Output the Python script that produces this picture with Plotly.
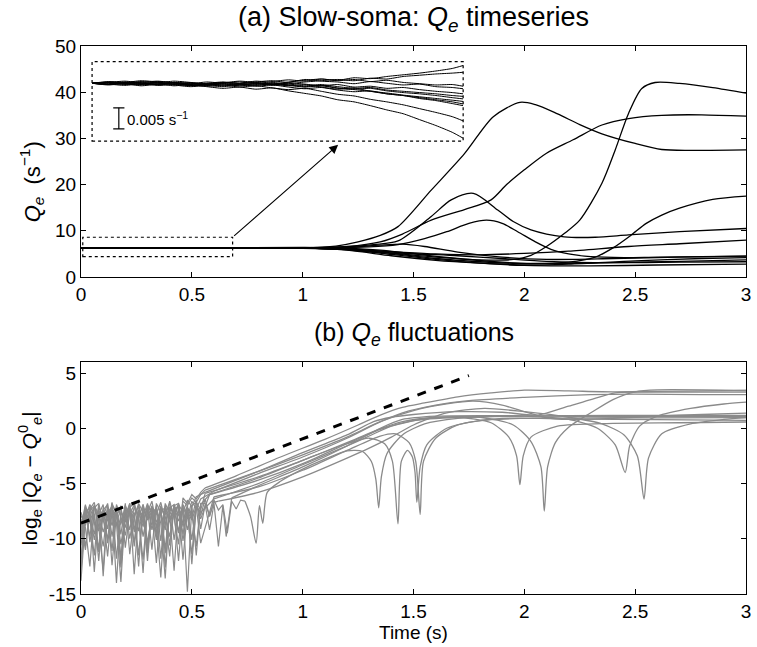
import plotly.graph_objects as go

# ================= DATA =================
# ---- Panel (a): Q_e(t) of 12 realisations (s^-1) ----
a1_t = [0, 0.5, 1.0, 1.2, 1.4, 1.6, 1.8, 1.95, 2.03, 2.1, 2.18, 2.25, 2.35, 2.41, 2.47, 2.53, 2.59, 2.7, 2.85, 3.0]
a1_q = [6.3, 6.32, 6.25, 6.0, 5.2, 4.3, 3.7, 3.8, 4.7, 6.6, 9.4, 12.3, 20.3, 27.5, 35.4, 40.8, 42.1, 41.9, 41.0, 39.8]
a2_t = [0, 0.5, 1.0, 1.2, 1.35, 1.45, 1.58, 1.73, 1.85, 1.92, 2.0, 2.1, 2.22, 2.35, 2.47, 2.62, 2.8, 3.0]
a2_q = [6.3, 6.27, 6.33, 6.6, 7.6, 9.3, 12.3, 14.6, 16.7, 20.0, 23.2, 26.8, 29.7, 32.9, 34.3, 35.0, 35.1, 34.8]
a3_t = [0, 0.5, 1.0, 1.15, 1.25, 1.35, 1.43, 1.58, 1.73, 1.86, 1.98, 2.05, 2.15, 2.25, 2.35, 2.5, 2.62, 2.75, 3.0]
a3_q = [6.3, 6.36, 6.3, 6.7, 7.6, 9.0, 10.9, 18.8, 26.7, 34.7, 37.8, 37.3, 35.3, 33.0, 31.0, 28.9, 27.6, 27.4, 27.5]
a4_t = [0, 0.5, 1.0, 1.2, 1.4, 1.6, 1.8, 2.0, 2.2, 2.32, 2.4, 2.48, 2.55, 2.62, 2.7, 2.85, 3.0]
a4_q = [6.3, 6.22, 6.28, 6.0, 5.1, 4.0, 3.3, 2.9, 3.2, 4.3, 6.3, 9.0, 11.6, 13.4, 14.9, 16.8, 17.5]
a5_t = [0, 0.5, 1.0, 1.2, 1.32, 1.43, 1.58, 1.67, 1.77, 1.88, 1.95, 2.03, 2.18, 2.32, 2.47, 2.7, 3.0]
a5_q = [6.3, 6.34, 6.27, 6.5, 7.0, 7.8, 13.1, 16.7, 18.1, 14.5, 12.0, 10.2, 8.7, 8.6, 9.1, 9.8, 10.5]
a6_t = [0, 0.5, 1.0, 1.3, 1.43, 1.55, 1.65, 1.75, 1.83, 1.9, 1.97, 2.05, 2.12, 2.2, 2.3, 2.45, 2.6, 3.0]
a6_q = [6.3, 6.28, 6.35, 6.5, 7.0, 8.3, 9.8, 11.6, 12.3, 11.6, 9.8, 7.6, 6.0, 5.0, 4.4, 4.2, 4.3, 4.5]
a7_t = [0, 0.5, 1.0, 1.2, 1.4, 1.6, 1.8, 2.0, 2.2, 2.47, 2.7, 3.0]
a7_q = [6.3, 6.3, 6.22, 6.0, 5.5, 5.0, 4.8, 5.1, 5.6, 6.6, 7.2, 8.0]
a8_t = [0, 0.5, 1.0, 1.2, 1.4, 1.6, 1.8, 2.0, 2.2, 2.5, 2.8, 3.0]
a8_q = [6.3, 6.24, 6.3, 5.8, 4.6, 3.6, 3.0, 2.6, 2.8, 3.5, 4.0, 4.2]
a9_t = [0, 0.5, 1.0, 1.2, 1.35, 1.5, 1.7, 1.9, 2.1, 2.4, 2.7, 3.0]
a9_q = [6.3, 6.37, 6.32, 6.2, 5.8, 5.0, 4.0, 3.2, 2.9, 3.1, 3.4, 3.7]
a10_t = [0, 0.5, 1.0, 1.2, 1.4, 1.6, 1.8, 2.0, 2.3, 2.6, 3.0]
a10_q = [6.3, 6.26, 6.24, 5.9, 4.9, 3.8, 3.0, 2.5, 2.4, 2.6, 2.8]
a11_t = [0, 0.5, 1.0, 1.2, 1.35, 1.45, 1.55, 1.7, 1.9, 2.1, 2.4, 2.7, 3.0]
a11_q = [6.3, 6.31, 6.38, 6.4, 6.9, 7.1, 6.6, 5.4, 4.3, 3.8, 4.0, 4.3, 4.5]
a12_t = [0, 0.5, 1.0, 1.25, 1.45, 1.7, 1.9, 2.1, 2.4, 2.7, 3.0]
a12_q = [6.3, 6.29, 6.2, 6.0, 5.2, 4.6, 4.0, 3.4, 3.1, 3.2, 3.3]

# ---- Inset: early fluctuations of Q_e about steady state (units of 1e-3 s^-1) ----
inset_t = [0, 0.03, 0.06, 0.09, 0.12, 0.15, 0.18, 0.21, 0.24, 0.27, 0.30, 0.33,
           0.36, 0.39, 0.42, 0.45, 0.48, 0.51, 0.54, 0.57, 0.60, 0.63, 0.66, 0.68]
i1 = [0, 0.4, 0.2, 0.6, 0.3, -0.2, 0.1, -0.4, 0.0, 0.3, -0.1, 0.4, 0.8, 0.5, 1.0, 0.7, 1.3, 1.1, 1.6, 2.0, 2.4, 2.9, 3.5, 4.2]
i2 = [0, -0.3, 0.1, -0.2, 0.4, 0.1, -0.5, -0.2, 0.2, 0.0, 0.5, 0.2, -0.1, 0.3, 0.6, 0.9, 0.6, 1.2, 1.0, 1.6, 1.9, 2.2, 2.4, 2.6]
i3 = [0, 0.2, -0.1, 0.3, -0.4, -0.1, -0.6, -0.3, 0.1, -0.2, 0.3, 0.6, 0.2, 0.9, 0.5, 0.3, -0.1, 0.4, 0.0, -0.4, -0.2, -0.8, -1.0, -1.3]
i4 = [0, -0.1, 0.3, 0.0, -0.3, 0.2, 0.0, -0.5, -0.8, -0.4, -0.1, -0.3, 0.1, -0.2, -0.6, -0.3, -0.9, -0.7, -1.2, -1.0, -1.5, -1.9, -2.2, -2.5]
i5 = [0, 0.3, 0.0, -0.3, 0.1, -0.4, -0.8, -0.5, -0.2, -0.6, -0.3, 0.0, -0.4, -0.8, -0.5, -1.1, -1.4, -1.2, -1.8, -2.2, -2.5, -2.9, -3.4, -3.7]
i6 = [0, -0.2, 0.2, -0.1, -0.5, -0.3, 0.1, -0.2, -0.6, -0.3, -0.7, -0.4, -0.9, -1.3, -1.0, -1.6, -2.0, -1.8, -2.5, -2.9, -3.4, -3.9, -4.4, -4.9]
i7 = [0, 0.1, -0.3, 0.2, 0.5, 0.1, -0.3, 0.0, 0.3, -0.1, -0.5, -0.2, -0.6, -0.3, -0.9, -1.4, -1.1, -1.9, -2.5, -2.9, -3.6, -4.1, -4.8, -5.3]
i8 = [0, -0.3, -0.1, -0.6, -0.2, 0.1, -0.4, -0.7, -0.4, -0.9, -0.6, -1.1, -1.5, -1.2, -1.9, -2.6, -3.0, -3.8, -4.4, -5.1, -6.0, -6.9, -7.9, -8.9]
i9 = [0, 0.2, -0.2, -0.4, -0.1, -0.6, -0.3, -0.8, -1.2, -0.9, -1.4, -1.1, -1.8, -2.4, -3.0, -3.9, -4.4, -5.3, -6.3, -7.2, -8.6, -10.0, -11.6, -13.0]
i10 = [0, -0.4, 0.0, 0.4, 0.1, 0.5, 0.2, -0.2, 0.1, 0.5, 0.2, -0.2, 0.3, 0.7, 1.0, 0.6, 0.9, 0.4, 0.7, 0.2, -0.1, -0.4, -0.3, -0.7]
i11 = [0, 0.2, 0.5, 0.1, -0.2, 0.2, -0.1, 0.3, 0.0, -0.4, -0.1, -0.5, -0.2, -0.6, -0.3, -0.8, -1.2, -1.0, -1.6, -1.9, -2.2, -2.5, -2.9, -3.1]
i12 = [0, -0.2, -0.5, -0.1, 0.2, -0.2, -0.5, -0.1, -0.4, -0.1, 0.2, -0.2, -0.5, -0.9, -0.6, -1.2, -1.5, -1.9, -2.3, -2.8, -3.2, -3.6, -4.0, -4.3]
scalebar_t = [0.049, 0.049]
scalebar_q = [-10.8, -5.8]          # 5e-3 s^-1 long
scalebar_label = "0.005 s<sup>−1</sup>"

# ---- Panel (b): log_e|Q_e - Q_e^0| ; noisy early part on a common grid ----
noise_t = [0.00, 0.02, 0.04, 0.06, 0.08, 0.10, 0.12, 0.14, 0.16, 0.18, 0.20, 0.22, 0.24, 0.26,
           0.28, 0.30, 0.32, 0.34, 0.36, 0.38, 0.40, 0.42, 0.44, 0.46, 0.48, 0.50, 0.52, 0.54]
n1 = [-9.5, -7.0, -8.2, -11.5, -7.1, -8.0, -6.8, -9.8, -7.3, -12.2, -7.0, -7.9, -10.3, -6.9, -8.6, -7.2, -11.0, -6.8, -7.6, -9.2, -6.6, -8.1, -10.5, -6.3, -6.8, -6.0, -6.4, -5.8]
n2 = [-13.8, -8.1, -6.9, -7.8, -10.9, -7.4, -9.1, -6.7, -11.8, -7.6, -8.3, -6.8, -13.2, -7.5, -8.9, -6.9, -7.8, -10.1, -7.0, -12.6, -7.2, -6.9, -9.4, -6.6, -7.0, -6.3, -6.7, -6.0]
n3 = [-8.2, -10.7, -7.3, -6.7, -8.9, -12.8, -7.1, -8.0, -7.4, -9.6, -6.8, -11.4, -7.9, -7.0, -9.8, -7.6, -6.6, -8.7, -13.5, -7.4, -8.5, -7.0, -6.8, -10.2, -7.2, -8.1, -6.5, -9.1]
n4 = [-10.6, -7.5, -9.8, -7.0, -7.8, -6.9, -10.4, -7.7, -8.6, -13.9, -7.3, -7.8, -6.9, -9.3, -7.5, -12.0, -7.1, -7.8, -6.7, -8.4, -11.6, -6.9, -7.9, -7.2, -14.8, -7.0, -6.7, -8.2]
n5 = [-7.6, -9.0, -12.5, -7.2, -6.8, -8.5, -7.3, -11.1, -6.9, -8.0, -9.7, -7.2, -6.7, -8.3, -11.9, -7.4, -8.8, -7.0, -10.2, -6.8, -7.7, -12.9, -6.9, -7.6, -6.5, -7.1, -6.2, -6.0]
n6 = [-11.8, -7.3, -7.9, -9.6, -6.9, -13.4, -7.6, -7.1, -8.8, -7.0, -10.8, -7.5, -8.1, -6.8, -7.6, -10.9, -7.3, -9.5, -7.1, -7.8, -6.7, -10.1, -7.4, -8.6, -6.9, -12.3, -7.1, -7.6]
n7 = [-8.9, -6.9, -10.3, -7.8, -12.0, -7.2, -8.4, -7.0, -7.6, -10.5, -7.9, -6.8, -9.4, -7.7, -13.1, -7.0, -7.5, -8.9, -7.3, -11.3, -7.6, -8.0, -6.9, -9.6, -7.2, -7.7, -10.7, -6.8]
n8 = [-12.9, -7.7, -7.1, -8.5, -11.2, -7.4, -6.9, -12.4, -7.8, -7.3, -9.0, -7.1, -10.7, -7.6, -8.0, -6.8, -9.2, -7.4, -11.8, -7.0, -8.2, -7.3, -9.5, -6.9, -7.8, -11.4, -7.0, -7.9]
n9 = [-7.9, -8.8, -7.2, -13.0, -7.5, -8.1, -10.0, -6.8, -7.7, -11.7, -7.4, -9.2, -7.1, -8.1, -6.9, -10.4, -7.7, -7.2, -8.6, -13.6, -7.1, -7.9, -6.8, -8.9, -7.3, -10.1, -6.7, -7.4]
n10 = [-9.9, -7.2, -7.8, -10.1, -7.6, -9.4, -7.9, -7.2, -14.0, -7.5, -8.5, -7.2, -7.8, -11.5, -6.9, -8.3, -7.5, -12.2, -7.2, -8.0, -9.8, -7.4, -7.0, -11.9, -7.5, -8.3, -7.1, -10.4]
n11 = [-12.2, -7.4, -8.6, -7.0, -9.3, -7.8, -11.6, -7.3, -7.9, -8.7, -7.0, -10.0, -7.6, -12.5, -7.2, -8.1, -7.0, -9.8, -7.5, -7.2, -10.6, -7.0, -8.4, -7.3, -9.2, -7.0, -11.5, -6.9]
n12 = [-8.6, -11.0, -7.5, -7.0, -8.3, -10.7, -7.3, -8.8, -7.1, -12.6, -8.0, -7.2, -9.1, -7.4, -7.9, -11.3, -7.1, -8.5, -7.6, -10.9, -7.2, -7.6, -12.0, -7.1, -8.2, -6.6, -7.3, -6.4]
# extra noisy stretches of the slower traces
n3_ext_t = [0.56, 0.58, 0.60, 0.62, 0.64, 0.655]
n3_ext_y = [-6.9, -9.2, -6.8, -10.7, -7.0, -9.8]
n7_ext_t = [0.56, 0.58, 0.60]
n7_ext_y = [-6.8, -7.9, -6.7]
n8_ext_t = [0.56, 0.58, 0.60, 0.62, 0.64, 0.66, 0.68, 0.70, 0.72]
n8_ext_y = [-6.4, -8.0, -6.5, -7.4, -6.9, -9.5, -6.6, -7.3, -6.5]
# smooth (growing) part of each trace
b1_t = [0.56, 0.7, 0.9, 1.1, 1.25, 1.35, 1.45, 1.55, 1.7, 1.85, 2.0, 2.2, 2.4, 2.6, 3.0]
b1_y = [-5.4, -4.3, -2.6, -1.0, 0.3, 1.2, 1.9, 2.3, 2.85, 3.2, 3.45, 3.38, 3.3, 3.35, 3.42]
b2_t = [0.56, 0.8, 1.0, 1.2, 1.32, 1.4, 1.5, 1.7, 1.9, 2.06, 2.2, 2.3, 2.41, 2.5, 2.6, 3.0]
b2_y = [-5.8, -3.9, -2.2, -0.6, 0.6, 1.0, 1.25, 1.5, 1.45, 1.2, 2.0, 2.6, 3.2, 3.27, 3.28, 3.28]
b3_t = [0.68, 0.8, 1.0, 1.2, 1.35, 1.45, 1.6, 1.8, 2.0, 2.2, 2.33, 2.41, 2.455, 2.475, 2.52, 2.6, 2.75, 2.9, 3.0]
b3_y = [-6.3, -5.2, -3.5, -1.6, 0.0, 0.8, 1.1, 1.15, 1.1, 0.8, 0.0, -1.5, -4.0, -1.6, 0.2, 1.1, 1.8, 2.2, 2.37]
b4_t = [0.58, 0.8, 1.0, 1.2, 1.33, 1.45, 1.6, 1.8, 1.95, 2.03, 2.075, 2.09, 2.105, 2.14, 2.2, 2.3, 2.4, 2.5, 2.6, 3.0]
b4_y = [-6.0, -4.5, -2.9, -1.3, -0.2, 0.6, 1.0, 1.0, 0.3, -1.2, -3.5, -7.5, -3.5, -1.3, 0.1, 1.4, 2.6, 3.3, 3.48, 3.42]
b5_t = [0.56, 0.8, 1.0, 1.2, 1.35, 1.5, 1.65, 1.77, 1.9, 2.0, 2.1, 2.2, 2.4, 2.6, 2.8, 3.0]
b5_y = [-5.6, -3.9, -2.4, -0.8, 0.6, 1.6, 2.2, 2.45, 2.1, 1.5, 0.95, 0.8, 0.9, 1.1, 1.25, 1.38]
b6_t = [0.6, 0.8, 1.0, 1.2, 1.3, 1.4, 1.55, 1.7, 1.85, 1.93, 1.965, 1.98, 1.995, 2.03, 2.15, 2.4, 2.7, 3.0]
b6_y = [-6.4, -5.0, -3.3, -1.6, -0.7, 0.2, 0.85, 1.0, 0.5, -0.8, -2.5, -5.1, -2.5, -0.8, 0.2, 0.45, 0.5, 0.57]
b7_t = [0.62, 0.8, 1.0, 1.2, 1.3, 1.4, 1.5, 1.65, 1.82, 2.0, 2.2, 2.35, 2.45, 2.51, 2.54, 2.56, 2.62, 2.75, 2.9, 3.0]
b7_y = [-6.6, -5.8, -4.4, -2.7, -1.8, -0.8, 0.3, 1.4, 1.8, 1.5, 1.0, 0.4, -0.6, -2.5, -6.4, -2.7, -0.5, 0.4, 0.8, 0.96]
b8_t = [0.74, 0.765, 0.79, 0.805, 0.82, 0.84, 0.9, 1.0, 1.1, 1.2, 1.27, 1.31, 1.33, 1.343, 1.355, 1.38, 1.45, 1.55, 1.7, 1.9, 2.2, 2.6, 3.0]
b8_y = [-6.6, -8.0, -10.4, -7.0, -8.6, -5.8, -4.8, -3.7, -2.8, -2.05, -2.1, -3.0, -4.6, -7.2, -4.4, -2.3, -0.6, 0.4, 0.9, 1.1, 1.15, 1.17, 1.17]
b9_t = [0.56, 0.8, 1.0, 1.2, 1.3, 1.37, 1.405, 1.43, 1.445, 1.473, 1.495, 1.507, 1.515, 1.53, 1.56, 1.65, 1.8, 2.0, 2.3, 2.6, 3.0]
b9_y = [-5.9, -4.4, -2.9, -1.4, -0.9, -1.4, -3.0, -8.65, -3.0, -2.0, -2.6, -4.0, -6.7, -3.5, -1.5, 0.0, 0.7, 0.9, 0.95, 0.95, 0.96]
b10_t = [0.6, 0.8, 1.0, 1.2, 1.35, 1.42, 1.48, 1.51, 1.53, 1.545, 1.6, 1.7, 1.9, 2.2, 2.6, 3.0]
b10_y = [-6.2, -5.3, -3.8, -2.0, -0.7, -0.5, -1.3, -3.0, -7.8, -3.0, -0.9, 0.3, 0.9, 0.85, 0.78, 0.72]
b11_t = [0.58, 0.8, 1.0, 1.2, 1.35, 1.5, 1.7, 2.0, 2.5, 3.0]
b11_y = [-6.0, -4.7, -3.2, -1.4, -0.1, 0.7, 1.0, 1.1, 1.05, 1.05]
b12_t = [0.6, 0.8, 1.0, 1.2, 1.33, 1.45, 1.6, 1.75, 2.0, 2.3, 2.5, 2.8, 3.0]
b12_y = [-5.7, -4.1, -2.6, -0.9, 0.4, 1.4, 2.1, 2.5, 2.8, 3.05, 3.1, 3.05, 3.05]
# linear-instability growth-rate guide (dashed)
guide_t = [0.0, 1.75]
guide_y = [-8.59, 4.77]

# tick labels
x_ticks = [0, 0.5, 1, 1.5, 2, 2.5, 3]
x_ticktext = ["0", "0.5", "1", "1.5", "2", "2.5", "3"]
ya_ticks = [0, 10, 20, 30, 40, 50]
ya_ticktext = ["0", "10", "20", "30", "40", "50"]
yb_ticks = [5, 0, -5, -10, -15]
yb_ticktext = ["5", "0", "-5", "-10", "-15"]

# ================= LAYOUT CONSTANTS =================
W, H = 757, 647
ML, MR, MT, MB = 81, 6, 46, 53
PH = H - MT - MB
DOM_A = [(H - MB - 277) / PH, 1.0]
DOM_B = [0.0, (H - MB - 362) / PH]
YA_RANGE = [0, 50]
YB_RANGE = [-15, 6]
X_RANGE = [0, 3]
SMALL_BOX = dict(x0=0.008, x1=0.684, y0=4.4, y1=8.6)
BIG_BOX = dict(x0=0.05, x1=1.724, y0=29.4, y1=46.6)
INSET_T_RANGE = [0, 0.68]
INSET_Q_RANGE = [-13.7, 5.1]
FONT = "Liberation Sans, Arial, Helvetica, sans-serif"
GRAY = "#8a8a8a"


def ypaper_a(v):
    return DOM_A[0] + (DOM_A[1] - DOM_A[0]) * (v - YA_RANGE[0]) / (YA_RANGE[1] - YA_RANGE[0])


def py2paper(py):
    return (H - MB - py) / PH


def px2paper(px):
    return (px - ML) / (W - ML - MR)


fig = go.Figure()

# panel (a) traces
a_series = [(a1_t, a1_q), (a2_t, a2_q), (a3_t, a3_q), (a4_t, a4_q), (a5_t, a5_q), (a6_t, a6_q),
            (a7_t, a7_q), (a8_t, a8_q), (a9_t, a9_q), (a10_t, a10_q), (a11_t, a11_q), (a12_t, a12_q)]
for t, q in a_series:
    fig.add_trace(go.Scatter(x=t, y=q, mode="lines", xaxis="x", yaxis="y",
                             line=dict(color="black", width=1.3, shape="spline", smoothing=0.8),
                             showlegend=False, hoverinfo="skip"))

# inset traces
for q in [i1, i2, i3, i4, i5, i6, i7, i8, i9, i10, i11, i12]:
    fig.add_trace(go.Scatter(x=inset_t, y=q, mode="lines", xaxis="x3", yaxis="y3",
                             line=dict(color="black", width=1.0, shape="spline", smoothing=0.6),
                             showlegend=False, hoverinfo="skip"))
fig.add_trace(go.Scatter(x=scalebar_t, y=scalebar_q, mode="lines+markers", xaxis="x3", yaxis="y3",
                         line=dict(color="black", width=1.2),
                         marker=dict(symbol="line-ew", size=8, line=dict(color="black", width=1.2)),
                         showlegend=False, hoverinfo="skip"))

# panel (b) traces
b_series = [
    (n1, [], [], b1_t, b1_y), (n2, [], [], b2_t, b2_y), (n3, n3_ext_t, n3_ext_y, b3_t, b3_y),
    (n4, [], [], b4_t, b4_y), (n5, [], [], b5_t, b5_y), (n6, [], [], b6_t, b6_y),
    (n7, n7_ext_t, n7_ext_y, b7_t, b7_y), (n8, n8_ext_t, n8_ext_y, b8_t, b8_y),
    (n9, [], [], b9_t, b9_y), (n10, [], [], b10_t, b10_y), (n11, [], [], b11_t, b11_y),
    (n12, [], [], b12_t, b12_y),
]
for n, et, ey, st, sy in b_series:
    fig.add_trace(go.Scatter(x=noise_t + et + st[:1], y=n + ey + sy[:1], mode="lines",
                             xaxis="x2", yaxis="y2", line=dict(color=GRAY, width=1.2),
                             showlegend=False, hoverinfo="skip"))
    fig.add_trace(go.Scatter(x=st, y=sy, mode="lines", xaxis="x2", yaxis="y2",
                             line=dict(color=GRAY, width=1.3, shape="spline", smoothing=0.7),
                             showlegend=False, hoverinfo="skip"))
fig.add_trace(go.Scatter(x=guide_t, y=guide_y, mode="lines", xaxis="x2", yaxis="y2",
                         line=dict(color="black", width=3, dash="dash"),
                         showlegend=False, hoverinfo="skip"))

axis_common = dict(showline=True, linecolor="black", linewidth=1, mirror="ticks",
                   ticks="inside", ticklen=5, tickcolor="black", tickwidth=1,
                   showgrid=False, zeroline=False, ticklabeloverflow="allow",
                   tickfont=dict(family=FONT, size=19, color="black"))

fig.update_layout(
    width=W, height=H,
    margin=dict(l=ML, r=MR, t=MT, b=MB),
    paper_bgcolor="white", plot_bgcolor="white",
    font=dict(family=FONT, color="black"),
    xaxis=dict(domain=[0, 1], range=X_RANGE, anchor="y", tickvals=x_ticks, ticktext=x_ticktext, **axis_common),
    yaxis=dict(domain=DOM_A, range=YA_RANGE, anchor="x", tickvals=ya_ticks, ticktext=ya_ticktext, **axis_common),
    xaxis2=dict(domain=[0, 1], range=X_RANGE, anchor="y2", tickvals=x_ticks, ticktext=x_ticktext, **axis_common),
    yaxis2=dict(domain=DOM_B, range=YB_RANGE, anchor="x2", tickvals=yb_ticks, ticktext=yb_ticktext, **axis_common),
    xaxis3=dict(domain=[BIG_BOX["x0"] / X_RANGE[1], BIG_BOX["x1"] / X_RANGE[1]], range=INSET_T_RANGE,
                anchor="y3", visible=False),
    yaxis3=dict(domain=[ypaper_a(BIG_BOX["y0"]), ypaper_a(BIG_BOX["y1"])], range=INSET_Q_RANGE,
                anchor="x3", visible=False),
)

# dotted boxes
for box in (SMALL_BOX, BIG_BOX):
    fig.add_shape(type="rect", xref="x", yref="y", line=dict(color="black", width=1.2, dash="dot"),
                  fillcolor="rgba(0,0,0,0)", layer="above", **box)

annotations = [
    # arrow from small box to inset
    dict(x=1.16, y=28.6, xref="x", yref="y", ax=SMALL_BOX["x1"], ay=SMALL_BOX["y1"], axref="x", ayref="y",
         showarrow=True, arrowhead=2, arrowsize=1.6, arrowwidth=1.1, arrowcolor="black", text=""),
    # scale bar label
    dict(x=0.06, y=-8.3, xref="x3", yref="y3", text=scalebar_label, showarrow=False,
         xanchor="left", yanchor="middle", font=dict(family=FONT, size=15, color="black")),
    # panel titles
    dict(x=0.5, y=py2paper(19), xref="paper", yref="paper", showarrow=False,
         text="(a) Slow-soma: <i>Q<sub>e</sub></i> timeseries", xanchor="center", yanchor="middle",
         font=dict(family=FONT, size=27, color="black")),
    dict(x=0.5, y=py2paper(334), xref="paper", yref="paper", showarrow=False,
         text="(b) <i>Q<sub>e</sub></i> fluctuations", xanchor="center", yanchor="middle",
         font=dict(family=FONT, size=25, color="black")),
    # y axis titles
    dict(x=px2paper(31), y=py2paper(182), xref="paper", yref="paper", showarrow=False, textangle=-90,
         text="<i>Q<sub>e</sub></i>  (s<sup>−1</sup>)", xanchor="center", yanchor="middle",
         font=dict(family=FONT, size=22, color="black")),
    dict(x=px2paper(29), y=py2paper(478), xref="paper", yref="paper", showarrow=False, textangle=-90,
         text="log<sub>e</sub> |<i>Q<sub>e</sub></i> − <i>Q</i><sup>0</sup><sub><i>e</i></sub>|",
         xanchor="center", yanchor="middle", font=dict(family=FONT, size=21, color="black")),
    # x axis title
    dict(x=0.5, y=py2paper(632), xref="paper", yref="paper", showarrow=False, text="Time (s)",
         xanchor="center", yanchor="middle", font=dict(family=FONT, size=19, color="black")),
]
fig.update_layout(annotations=annotations)

# the page body's default 8px margin would shift the figure; remove it
fig.write_html("out.html", config={"displayModeBar": False},
               post_script="document.body.style.margin='0px';document.body.style.overflow='hidden';")
